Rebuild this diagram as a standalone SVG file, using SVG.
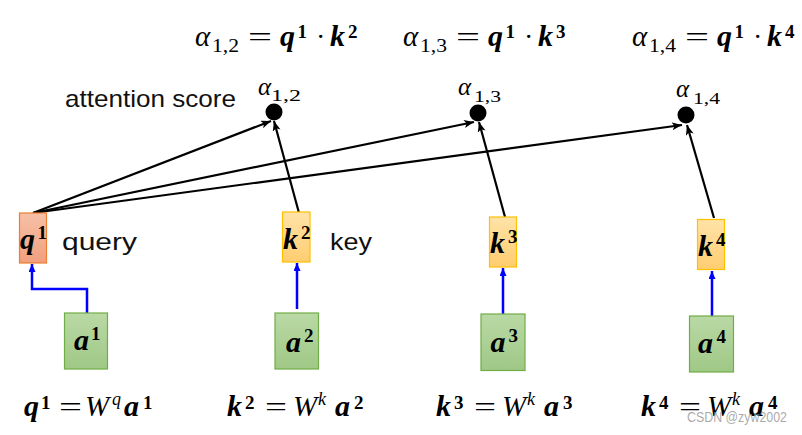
<svg xmlns="http://www.w3.org/2000/svg" width="802" height="435" viewBox="0 0 802 435">
<style>
.m{font-family:"Liberation Serif",serif;font-weight:bold;font-style:italic;font-size:30px;fill:#000}
.sup{font-family:"Liberation Serif",serif;font-weight:bold;font-size:19px;fill:#000}
.it{font-family:"Liberation Serif",serif;font-style:italic;font-size:29px;fill:#000}
.sub{font-family:"Liberation Serif",serif;font-size:18px;fill:#000}
.asub{font-family:"Liberation Serif",serif;font-size:16px;fill:#000}
.ait{font-family:"Liberation Serif",serif;font-style:italic;font-size:25px;fill:#000}
.eq{font-family:"Liberation Serif",serif;font-size:28px;fill:#000}
.lbl{font-family:"Liberation Sans",Arial,sans-serif;font-size:24px;fill:#111}
.wm{font-family:"Liberation Sans",Arial,sans-serif;font-size:14px;fill:#9a9a9a;fill-opacity:0.85}
.qbox{fill:url(#gq);stroke:#ed7d31;stroke-width:1.2}
.kbox{fill:url(#gk);stroke:#ffc000;stroke-width:1.2}
.abox{fill:url(#ga);stroke:#70ad47;stroke-width:1.2}
.blk{fill:none;stroke:#000;stroke-width:2.2;marker-end:url(#ab)}
.blu{fill:none;stroke:#0000ff;stroke-width:2.5;marker-end:url(#au)}
.dot{fill:#000}
</style>
<defs>
<linearGradient id="gq" x1="0" y1="0" x2="0" y2="1"><stop offset="0" stop-color="#f6c0a6"/><stop offset="1" stop-color="#f19f7e"/></linearGradient>
<linearGradient id="gk" x1="0" y1="0" x2="0" y2="1"><stop offset="0" stop-color="#ffe3a8"/><stop offset="1" stop-color="#ffcd70"/></linearGradient>
<linearGradient id="ga" x1="0" y1="0" x2="0" y2="1"><stop offset="0" stop-color="#bad9a5"/><stop offset="1" stop-color="#9fc886"/></linearGradient>
<marker id="ab" markerUnits="userSpaceOnUse" markerWidth="12" markerHeight="10" refX="10" refY="4" orient="auto"><path d="M0,0 L10,4 L0,8 L2.5,4 z" fill="#000"/></marker>
<marker id="au" markerUnits="userSpaceOnUse" markerWidth="10" markerHeight="10" refX="8" refY="3.5" orient="auto"><path d="M0,0 L8,3.5 L0,7 z" fill="#0000ff"/></marker>
</defs>

<g id="connectors">
<path class="blk" d="M33,213 L271,121"/>
<path class="blk" d="M33,213 L474,122"/>
<path class="blk" d="M33,213 L682,125"/>
<path class="blk" d="M299,213 L274,121"/>
<path class="blk" d="M505,217 L479,122"/>
<path class="blk" d="M714,218 L687,125"/>
<path class="blu" d="M87,313 L87,289 L32,289 L32,264"/>
<path class="blu" d="M297,309 L297,263"/>
<path class="blu" d="M503,314 L503,268"/>
<path class="blu" d="M712,316 L712,271"/>
</g>

<g id="q1">
<rect class="qbox" x="19.5" y="213" width="27" height="50"/>
<text class="m" x="20" y="249">q</text><text class="sup" x="37.5" y="239">1</text>
</g>
<text class="lbl" x="62" y="250" textLength="75" lengthAdjust="spacingAndGlyphs">query</text>

<g id="k2">
<rect class="kbox" x="282.5" y="212" width="27.5" height="50"/>
<text class="m" x="283" y="249">k</text><text class="sup" x="301" y="239">2</text>
</g>
<text class="lbl" x="330" y="250" textLength="42" lengthAdjust="spacingAndGlyphs">key</text>

<g id="k3">
<rect class="kbox" x="489.5" y="217" width="27" height="50"/>
<text class="m" x="490" y="253">k</text><text class="sup" x="508" y="243">3</text>
</g>

<g id="k4">
<rect class="kbox" x="697.5" y="219.5" width="27" height="50"/>
<text class="m" x="698" y="256">k</text><text class="sup" x="716" y="246">4</text>
</g>

<g id="a1">
<rect class="abox" x="64.5" y="313" width="43" height="56"/>
<text class="m" x="74" y="350">a</text><text class="sup" x="91" y="340">1</text>
</g>
<g id="a2">
<rect class="abox" x="275" y="313" width="43.5" height="56"/>
<text class="m" x="286" y="351.5">a</text><text class="sup" x="304" y="341.5">2</text>
</g>
<g id="a3">
<rect class="abox" x="481" y="314" width="44" height="56.5"/>
<text class="m" x="490.5" y="351.5">a</text><text class="sup" x="508.5" y="341.5">3</text>
</g>
<g id="a4">
<rect class="abox" x="689.5" y="316" width="44" height="56"/>
<text class="m" x="698" y="353">a</text><text class="sup" x="716.5" y="343">4</text>
</g>

<g id="alpha12">
<circle class="dot" cx="274" cy="112" r="8.5"/>
<text class="ait" x="258" y="95">α</text><text class="asub" x="271" y="101" textLength="30" lengthAdjust="spacingAndGlyphs">1,2</text>
</g>
<g id="alpha13">
<circle class="dot" cx="478" cy="113" r="8.5"/>
<text class="ait" x="458" y="95">α</text><text class="asub" x="474" y="101.5" textLength="27" lengthAdjust="spacingAndGlyphs">1,3</text>
</g>
<g id="alpha14">
<circle class="dot" cx="686" cy="115" r="8.5"/>
<text class="ait" x="676" y="97">α</text><text class="asub" x="693" y="103.5" textLength="27" lengthAdjust="spacingAndGlyphs">1,4</text>
</g>
<text class="lbl" x="65" y="107" textLength="171" lengthAdjust="spacingAndGlyphs">attention score</text>

<g id="formula-top-1">
<text class="it" x="195" y="46">α</text>
<text class="sub" x="212" y="52" textLength="27" lengthAdjust="spacingAndGlyphs">1,2</text>
<text class="eq" x="248" y="46" textLength="24" lengthAdjust="spacingAndGlyphs">=</text>
<text class="m" x="280" y="46">q</text><text class="sup" x="297.5" y="38">1</text>
<text class="eq" x="316" y="46">·</text>
<text class="m" x="330" y="46">k</text><text class="sup" x="348" y="38">2</text>
</g>
<g id="formula-top-2" transform="translate(208,0)">
<text class="it" x="195" y="46">α</text>
<text class="sub" x="212" y="52" textLength="27" lengthAdjust="spacingAndGlyphs">1,3</text>
<text class="eq" x="248" y="46" textLength="24" lengthAdjust="spacingAndGlyphs">=</text>
<text class="m" x="280" y="46">q</text><text class="sup" x="297.5" y="38">1</text>
<text class="eq" x="316" y="46">·</text>
<text class="m" x="330" y="46">k</text><text class="sup" x="348" y="38">3</text>
</g>
<g id="formula-top-3" transform="translate(437,0)">
<text class="it" x="195" y="46">α</text>
<text class="sub" x="212" y="52" textLength="27" lengthAdjust="spacingAndGlyphs">1,4</text>
<text class="eq" x="248" y="46" textLength="24" lengthAdjust="spacingAndGlyphs">=</text>
<text class="m" x="280" y="46">q</text><text class="sup" x="297.5" y="38">1</text>
<text class="eq" x="316" y="46">·</text>
<text class="m" x="330" y="46">k</text><text class="sup" x="348" y="38">4</text>
</g>

<g id="formula-bottom-1">
<text class="m" x="24" y="416">q</text><text class="sup" x="41" y="409">1</text>
<text class="eq" x="59" y="416" textLength="23" lengthAdjust="spacingAndGlyphs">=</text>
<text class="it" x="85" y="416">W</text><text class="it" x="112" y="405" style="font-size:18px">q</text>
<text class="m" x="124" y="416">a</text><text class="sup" x="143" y="409">1</text>
</g>
<g id="formula-bottom-2">
<text class="m" x="227" y="416">k</text><text class="sup" x="245" y="409">2</text>
<text class="eq" x="265" y="416" textLength="22" lengthAdjust="spacingAndGlyphs">=</text>
<text class="it" x="293" y="416">W</text><text class="it" x="318" y="405" style="font-size:18px">k</text>
<text class="m" x="335" y="416">a</text><text class="sup" x="354" y="409">2</text>
</g>
<g id="formula-bottom-3">
<text class="m" x="436" y="416">k</text><text class="sup" x="454" y="409">3</text>
<text class="eq" x="474" y="416" textLength="22" lengthAdjust="spacingAndGlyphs">=</text>
<text class="it" x="502" y="416">W</text><text class="it" x="527" y="405" style="font-size:18px">k</text>
<text class="m" x="544" y="416">a</text><text class="sup" x="563" y="409">3</text>
</g>
<g id="formula-bottom-4">
<text class="m" x="641" y="416">k</text><text class="sup" x="659" y="409">4</text>
<text class="eq" x="679" y="416" textLength="22" lengthAdjust="spacingAndGlyphs">=</text>
<text class="it" x="707" y="416">W</text><text class="it" x="732" y="405" style="font-size:18px">k</text>
<text class="m" x="749" y="416">a</text><text class="sup" x="768" y="409">4</text>
</g>
<text class="wm" x="687" y="422" textLength="100" lengthAdjust="spacingAndGlyphs">CSDN @zyw2002</text>
</svg>
